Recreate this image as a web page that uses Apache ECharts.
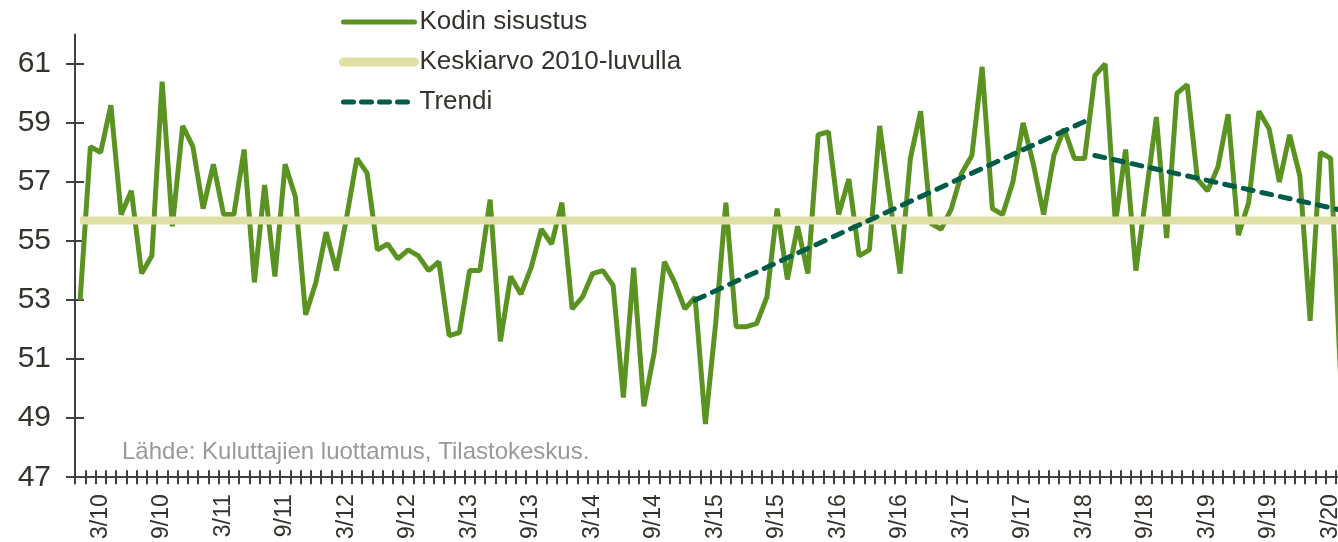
<!DOCTYPE html>
<html>
<head>
<meta charset="utf-8">
<script src="https://cdn.jsdelivr.net/npm/echarts@6/dist/echarts.min.js"></script>
<style>
  html, body { margin: 0; padding: 0; background: #fff; overflow: hidden; }
  /* kaavio jatkuu hieman oikean reunan yli kuten alkuperäisessä */
  #myChart { width: 1346px; height: 542px; }
</style>
</head>
<body>
<div id="myChart"></div>
<script>
// kuukaudet 1/10 - 4/20
const months = [
  '1/10', '2/10', '3/10', '4/10', '5/10', '6/10', '7/10', '8/10', '9/10', '10/10', '11/10', '12/10',
  '1/11', '2/11', '3/11', '4/11', '5/11', '6/11', '7/11', '8/11', '9/11', '10/11', '11/11', '12/11',
  '1/12', '2/12', '3/12', '4/12', '5/12', '6/12', '7/12', '8/12', '9/12', '10/12', '11/12', '12/12',
  '1/13', '2/13', '3/13', '4/13', '5/13', '6/13', '7/13', '8/13', '9/13', '10/13', '11/13', '12/13',
  '1/14', '2/14', '3/14', '4/14', '5/14', '6/14', '7/14', '8/14', '9/14', '10/14', '11/14', '12/14',
  '1/15', '2/15', '3/15', '4/15', '5/15', '6/15', '7/15', '8/15', '9/15', '10/15', '11/15', '12/15',
  '1/16', '2/16', '3/16', '4/16', '5/16', '6/16', '7/16', '8/16', '9/16', '10/16', '11/16', '12/16',
  '1/17', '2/17', '3/17', '4/17', '5/17', '6/17', '7/17', '8/17', '9/17', '10/17', '11/17', '12/17',
  '1/18', '2/18', '3/18', '4/18', '5/18', '6/18', '7/18', '8/18', '9/18', '10/18', '11/18', '12/18',
  '1/19', '2/19', '3/19', '4/19', '5/19', '6/19', '7/19', '8/19', '9/19', '10/19', '11/19', '12/19',
  '1/20', '2/20', '3/20', '4/20'
]

// Kodin sisustus, saldoluku
const sisustus = [
  53.0, 58.2, 58.0, 59.6, 55.9, 56.7, 53.9, 54.5, 60.4, 55.5, 58.9, 58.2,
  56.1, 57.6, 55.9, 55.9, 58.1, 53.6, 56.9, 53.8, 57.6, 56.5, 52.5, 53.6,
  55.3, 54.0, 55.8, 57.8, 57.3, 54.7, 54.9, 54.4, 54.7, 54.5, 54.0, 54.3,
  51.8, 51.9, 54.0, 54.0, 56.4, 51.6, 53.8, 53.2, 54.1, 55.4, 54.9, 56.3,
  52.7, 53.1, 53.9, 54.0, 53.5, 49.7, 54.1, 49.4, 51.2, 54.3, 53.6, 52.7,
  53.1, 48.8, 52.2, 56.3, 52.1, 52.1, 52.2, 53.1, 56.1, 53.7, 55.5, 53.9,
  58.6, 58.7, 55.9, 57.1, 54.5, 54.7, 58.9, 56.4, 53.9, 57.8, 59.4, 55.6,
  55.4, 56.1, 57.3, 57.9, 60.9, 56.1, 55.9, 57.0, 59.0, 57.6, 55.9, 57.9,
  58.8, 57.8, 57.8, 60.6, 61.0, 55.6, 58.1, 54.0, 56.6, 59.2, 55.1, 60.0,
  60.3, 57.1, 56.7, 57.5, 59.3, 55.2, 56.3, 59.4, 58.8, 57.0, 58.6, 57.2,
  52.3, 58.0, 57.8, 50.2
]

// keskiarvo 2010-luvulla
const keskiarvo = 55.7

// trendiviivat (alku- ja loppupiste)
const trendUp = [['1/15', 53.0], ['3/18', 59.05]]
const trendDown = [['4/18', 57.9], ['4/20', 56.05]]

const yTicks = [47, 49, 51, 53, 55, 57, 59, 61]

const axisColor = '#404040'
const textColor = '#35312c'
const green = '#5a9322'
const yellow = '#e0dfa5'
const teal = '#005c48'

let myChart = echarts.init(document.getElementById('myChart'))

myChart.setOption({
  animation: false,
  textStyle: {
    fontFamily: 'Liberation Sans, Arial, sans-serif'
  },
  legend: {
    orient: 'vertical',
    left: 334,
    top: 4,
    itemWidth: 71,
    itemHeight: 26,
    itemGap: 14,
    itemStyle: { opacity: 0 },
    textStyle: {
      fontSize: 26,
      color: textColor
    },
    data: [
      { name: 'Kodin sisustus', lineStyle: { width: 5, cap: 'round' } },
      { name: 'Keskiarvo 2010-luvulla', lineStyle: { width: 9, cap: 'round' } },
      { name: 'Trendi', lineStyle: { width: 5, type: [10, 8], cap: 'round' } }
    ]
  },
  graphic: [
    {
      type: 'text',
      left: 122,
      top: 440,
      style: {
        text: 'Lähde: Kuluttajien luottamus, Tilastokeskus.',
        fontSize: 24,
        fill: '#999999',
        fontFamily: 'Liberation Sans, Arial, sans-serif'
      }
    }
  ],
  grid: {
    left: 75,
    right: 0,
    top: 34.4,
    bottom: 62
  },
  xAxis: [
    {
      type: 'category',
      data: months,
      boundaryGap: true,
      axisLine: {
        lineStyle: { color: axisColor, width: 2 }
      },
      axisTick: {
        show: true,
        interval: 0,
        length: 7,
        lineStyle: { color: axisColor, width: 2 }
      },
      axisLabel: {
        interval: function (i) { return i % 6 === 2 },
        rotate: 90,
        fontSize: 23,
        margin: 17,
        color: textColor
      }
    },
    {
      // sisäänpäin menevät tikit
      type: 'category',
      data: months,
      position: 'bottom',
      boundaryGap: true,
      axisLine: { show: false },
      axisTick: {
        show: true,
        inside: true,
        interval: 0,
        length: 7,
        lineStyle: { color: axisColor, width: 2 }
      },
      axisLabel: { show: false }
    }
  ],
  yAxis: [
    {
      type: 'value',
      min: 47,
      max: 62,
      interval: 1,
      splitLine: { show: false },
      axisLine: {
        show: true,
        lineStyle: { color: axisColor, width: 2 }
      },
      axisTick: {
        show: true,
        length: 9,
        customValues: yTicks,
        lineStyle: { color: axisColor, width: 2 }
      },
      axisLabel: {
        fontSize: 30,
        margin: 24,
        color: textColor,
        customValues: yTicks
      }
    },
    {
      type: 'value',
      position: 'left',
      min: 47,
      max: 62,
      interval: 1,
      splitLine: { show: false },
      axisLine: { show: false },
      axisTick: {
        show: true,
        inside: true,
        length: 9,
        customValues: yTicks,
        lineStyle: { color: axisColor, width: 2 }
      },
      axisLabel: { show: false }
    }
  ],
  series: [
    {
      name: 'Kodin sisustus',
      type: 'line',
      data: sisustus,
      symbol: 'none',
      lineStyle: { color: green, width: 5 },
      itemStyle: { color: green }
    },
    {
      name: 'Keskiarvo 2010-luvulla',
      type: 'line',
      data: [[months[0], keskiarvo], [months[months.length - 1], keskiarvo]],
      symbol: 'none',
      lineStyle: { color: yellow, width: 8 },
      itemStyle: { color: yellow }
    },
    {
      name: 'Trendi',
      type: 'line',
      data: trendUp,
      symbol: 'none',
      lineStyle: { color: teal, width: 5, type: [10, 9], cap: 'round' },
      itemStyle: { color: teal }
    },
    {
      name: 'Trendi',
      type: 'line',
      data: trendDown,
      symbol: 'none',
      lineStyle: { color: teal, width: 5, type: [10, 9], cap: 'round' },
      itemStyle: { color: teal }
    }
  ]
})
</script>
</body>
</html>
